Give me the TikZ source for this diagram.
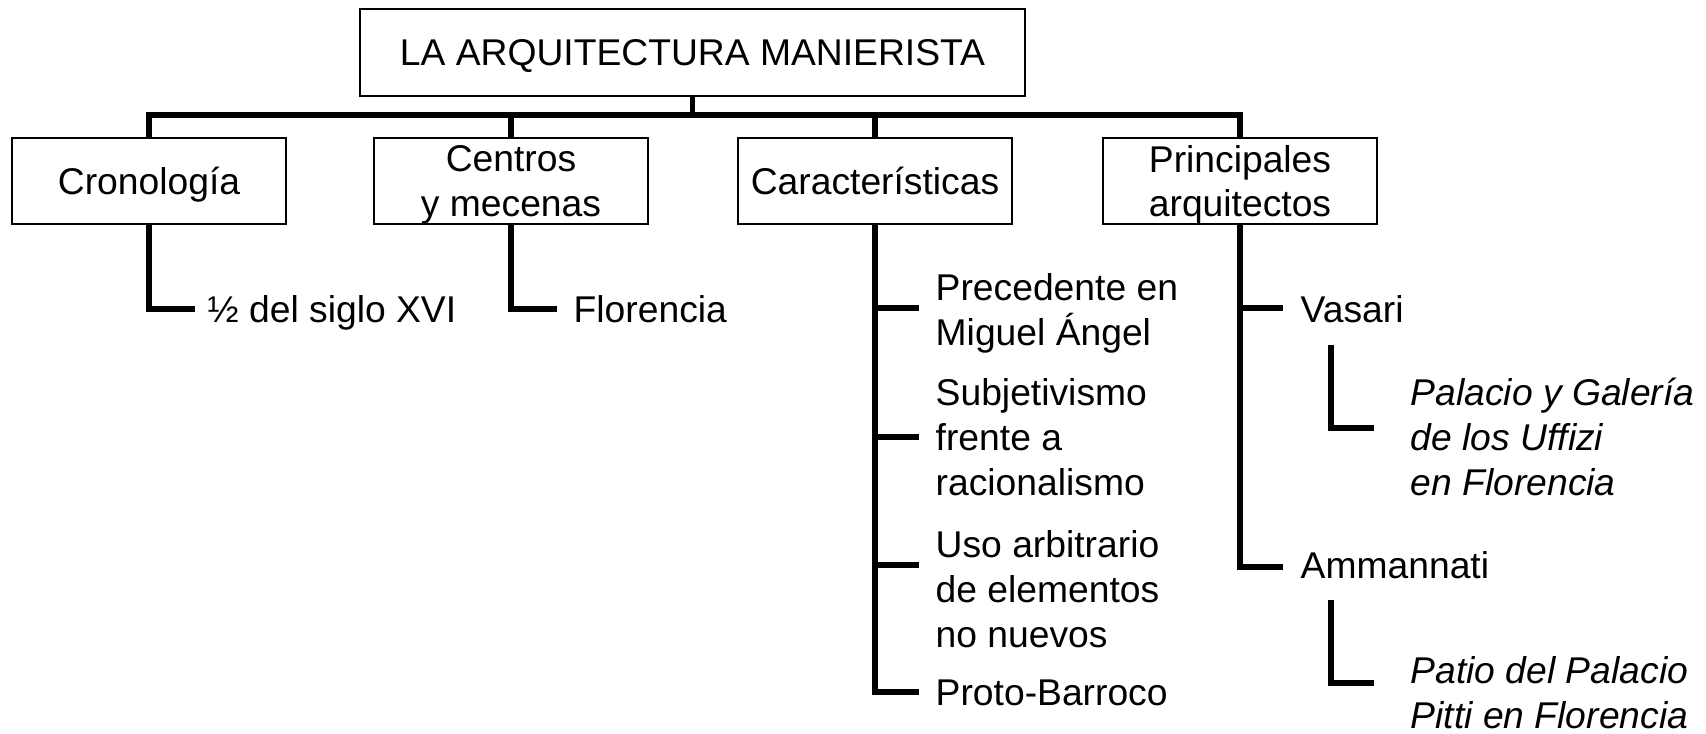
\documentclass[tikz,border=0pt]{standalone}
\usepackage{fontspec}
\setmainfont{Liberation Sans}
\usepackage{tikz}
\usetikzlibrary{positioning,calc}
\newcommand{\mapfont}{\fontsize{10.6pt}{12.8pt}\selectfont}

\begin{document}
\begin{tikzpicture}[font=\mapfont,
  tbox/.style={draw,line width=0.45pt,minimum width=2.74cm,minimum height=0.86cm,align=center,inner sep=1pt,text depth=0pt},
  item/.style={anchor=base west,inner sep=0pt,align=left},
  work/.style={item,font=\mapfont\itshape},
  link/.style={line width=1.6pt}]
  \useasboundingbox (0,0) rectangle (17.06,-7.33);
  % title and the four headings
  \node[tbox,minimum width=6.65cm,minimum height=0.87cm] (title) at (6.925,-0.525) {LA ARQUITECTURA MANIERISTA};
  \node[tbox] (crono) at (1.49,-1.81) {Cronología};
  \node[tbox] (centros) at (5.11,-1.81) {Centros\\y mecenas};
  \node[tbox] (caract) at (8.75,-1.81) {Características};
  \node[tbox] (princ) at (12.40,-1.81) {Principales\\arquitectos};
  \coordinate (bus) at (6.92,-1.15);
  \draw[link] (title.south) -- (title.south |- bus);
  \draw[link] (crono.north) |- (princ.north |- bus) -- (princ.north);
  \foreach \b in {centros,caract}
    \draw[link] (\b.north) -- (\b.north |- bus);
  % leaves (base = last line)
  \node[item] (siglo) at (2.07,-3.22) {½ del siglo XVI};
  \node[item] (flor) at (5.73,-3.22) {Florencia};
  \node[item] (prec) at (9.35,-3.45) {Precedente en\\Miguel Ángel};
  \node[item] (subj) at (9.35,-4.95) {Subjetivismo\\frente a\\racionalismo};
  \node[item] (uso) at (9.35,-6.47) {Uso arbitrario\\de elementos\\no nuevos};
  \node[item] (proto) at (9.35,-7.05) {Proto-Barroco};
  \node[item] (vasari) at (13.00,-3.22) {Vasari};
  \node[item] (amma) at (13.00,-5.78) {Ammannati};
  \node[work] (uffizi) at (14.10,-4.95) {Palacio y Galería\\de los Uffizi\\en Florencia};
  \node[work] (pitti) at (14.10,-7.28) {Patio del Palacio\\Pitti en Florencia};
  \draw[link] (crono.south) |- ([xshift=-1.2mm,yshift=1.3mm]siglo.base west);
  \draw[link] (centros.south) |- ([xshift=-1.6mm,yshift=1.3mm]flor.base west);
  \draw[link] (caract.south) |- ([xshift=-1.6mm,yshift=1.3mm]proto.base west);
  \foreach \n/\dy in {prec/3.7mm,subj/5.8mm,uso/8.2mm}
    \draw[link] ([yshift=\dy]caract.south |- \n.base) -- ([xshift=-1.6mm,yshift=\dy]\n.base west);
  \draw[link] (princ.south) |- ([xshift=-1.7mm,yshift=1.1mm]amma.base west);
  \draw[link] ([yshift=1.4mm]princ.south |- vasari.base) -- ([xshift=-1.7mm,yshift=1.4mm]vasari.base west);
  \draw[link] ([xshift=3.1mm,yshift=-2.3mm]vasari.base west) |- ([xshift=-3.6mm,yshift=6.7mm]uffizi.base west);
  \draw[link] ([xshift=3.1mm,yshift=-2.2mm]amma.base west) |- ([xshift=-3.6mm,yshift=4.5mm]pitti.base west);
\end{tikzpicture}
\end{document}
